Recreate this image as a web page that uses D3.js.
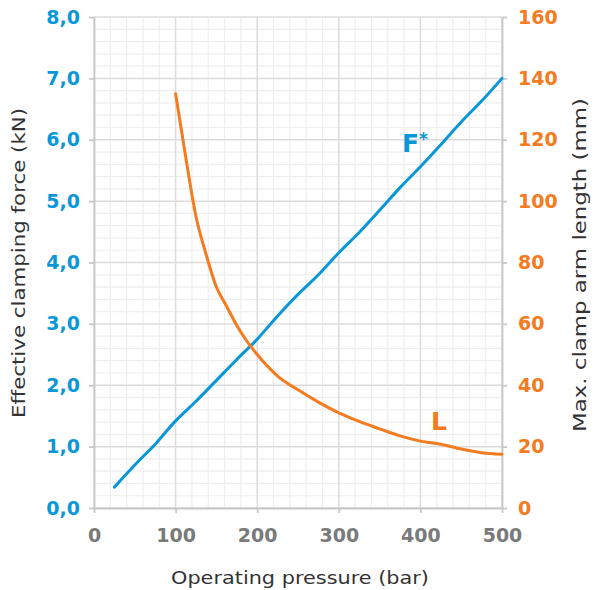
<!DOCTYPE html>
<html><head><meta charset="utf-8">
<script src="https://cdn.jsdelivr.net/npm/d3@7"></script>
<style>body{margin:0;background:#fff}svg{display:block}text{font-family:"DejaVu Sans",sans-serif}</style>
</head><body><svg id="c" width="595" height="590"></svg>
<script>
const forcePressure = [25, 50, 75, 100, 125, 150, 175, 200, 225, 250, 275, 300, 325, 350, 375, 400, 425, 450, 475, 500];
const forceValues   = [0.34, 0.70, 1.04, 1.42, 1.74, 2.08, 2.42, 2.75, 3.13, 3.48, 3.80, 4.16, 4.49, 4.85, 5.22, 5.56, 5.92, 6.29, 6.63, 7.0];
const lengthPressure = [100, 112, 125, 137, 150, 162, 175, 187, 200, 225, 250, 275, 300, 325, 350, 375, 400, 425, 450, 475, 500];
const lengthValues   = [135, 115, 95, 83, 72, 66, 59.5, 54.5, 50, 43, 38.5, 34.5, 31, 28.2, 25.8, 23.5, 21.8, 20.8, 19.2, 18, 17.5];
const xTicks = [0, 100, 200, 300, 400, 500];
const yLeftTicks = [0, 1, 2, 3, 4, 5, 6, 7, 8];
const yLeftLabels = ["0,0","1,0","2,0","3,0","4,0","5,0","6,0","7,0","8,0"];
const yRightTicks = [0, 20, 40, 60, 80, 100, 120, 140, 160];
const xTitle = "Operating pressure (bar)";
const yLeftTitle = "Effective clamping force (kN)";
const yRightTitle = "Max. clamp arm length (mm)";

const blue = "#0a97d9", orange = "#f47b20";
const svg = d3.select("#c");
const x = d3.scaleLinear().domain([0, 500]).range([94, 502]);
const yL = d3.scaleLinear().domain([0, 8]).range([508, 17]);
const yR = d3.scaleLinear().domain([0, 160]).range([508, 17]);

// minor grid
const g = svg.append("g");
g.selectAll(".mx").data(d3.range(0, 501, 20).filter(v => v % 100 !== 0)).join("line")
  .attr("x1", d => x(d)).attr("x2", d => x(d)).attr("y1", yL(0)).attr("y2", yL(8))
  .attr("stroke", "#eeeeee").attr("stroke-width", 1.2);
g.selectAll(".my").data(d3.range(0, 41).map(i => i * 0.2).filter((v, i) => i % 5 !== 0)).join("line")
  .attr("x1", x(0)).attr("x2", x(500)).attr("y1", d => yL(d)).attr("y2", d => yL(d))
  .attr("stroke", "#eeeeee").attr("stroke-width", 1.2);
// major grid
g.selectAll(".Mx").data(xTicks).join("line")
  .attr("x1", d => x(d)).attr("x2", d => x(d)).attr("y1", yL(0)).attr("y2", yL(8))
  .attr("stroke", "#dcdcdc").attr("stroke-width", 1.5);
g.selectAll(".My").data(yLeftTicks).join("line")
  .attr("x1", x(0)).attr("x2", x(500)).attr("y1", d => yL(d)).attr("y2", d => yL(d))
  .attr("stroke", "#dcdcdc").attr("stroke-width", 1.5);

// axes
const axisStyle = (sel, color) => {
  sel.select(".domain").attr("stroke", "#c8c8c8").attr("stroke-width", 1.8);
  sel.selectAll(".tick line").attr("stroke", "#c8c8c8").attr("stroke-width", 1.8);
  sel.selectAll(".tick text").attr("fill", color).attr("font-weight", 700).attr("font-size", 19)
    .attr("font-family", "DejaVu Sans, sans-serif");
};
const ax = svg.append("g").attr("transform", `translate(0,${yL(0)})`)
  .call(d3.axisBottom(x).tickValues(xTicks).tickSize(5).tickPadding(12).tickSizeOuter(0));
axisStyle(ax, "#7a7a7a");
ax.selectAll(".tick text").attr("dy", "0.9em");
const al = svg.append("g").attr("transform", `translate(${x(0)},0)`)
  .call(d3.axisLeft(yL).tickValues(yLeftTicks).tickFormat((d, i) => yLeftLabels[i]).tickSize(5).tickPadding(9).tickSizeOuter(0));
axisStyle(al, blue);
const ar = svg.append("g").attr("transform", `translate(${x(500)},0)`)
  .call(d3.axisRight(yR).tickValues(yRightTicks).tickSize(5).tickPadding(11).tickSizeOuter(0));
axisStyle(ar, orange);

// lines
const lineF = d3.line().x((d, i) => x(forcePressure[i])).y(d => yL(d)).curve(d3.curveMonotoneX);
svg.append("path").datum(forceValues).attr("d", lineF).attr("fill", "none")
  .attr("stroke", blue).attr("stroke-width", 3).attr("stroke-linecap", "round");
const lineL = d3.line().x((d, i) => x(lengthPressure[i])).y(d => yR(d)).curve(d3.curveMonotoneX);
svg.append("path").datum(lengthValues).attr("d", lineL).attr("fill", "none")
  .attr("stroke", orange).attr("stroke-width", 3).attr("stroke-linecap", "round");

// series labels
const fl = svg.append("text").attr("x", 402).attr("y", 152).attr("fill", blue)
  .attr("font-weight", 700).attr("font-size", 25).text("F");
fl.append("tspan").attr("font-size", 17).attr("dy", -7).text("*");
svg.append("text").attr("x", 431).attr("y", 430).attr("fill", orange)
  .attr("font-weight", 700).attr("font-size", 25).text("L");

// titles
svg.append("text").attr("x", 300).attr("y", 584).attr("text-anchor", "middle")
  .attr("fill", "#333").attr("font-size", 17).attr("textLength", 258).attr("lengthAdjust", "spacingAndGlyphs").text(xTitle);
svg.append("text").attr("transform", "translate(25,263) rotate(-90)").attr("text-anchor", "middle")
  .attr("fill", "#333").attr("font-size", 17).attr("textLength", 310).attr("lengthAdjust", "spacingAndGlyphs").text(yLeftTitle);
svg.append("text").attr("transform", "translate(586,265) rotate(-90)").attr("text-anchor", "middle")
  .attr("fill", "#333").attr("font-size", 17).attr("textLength", 334).attr("lengthAdjust", "spacingAndGlyphs").text(yRightTitle);
</script></body></html>
